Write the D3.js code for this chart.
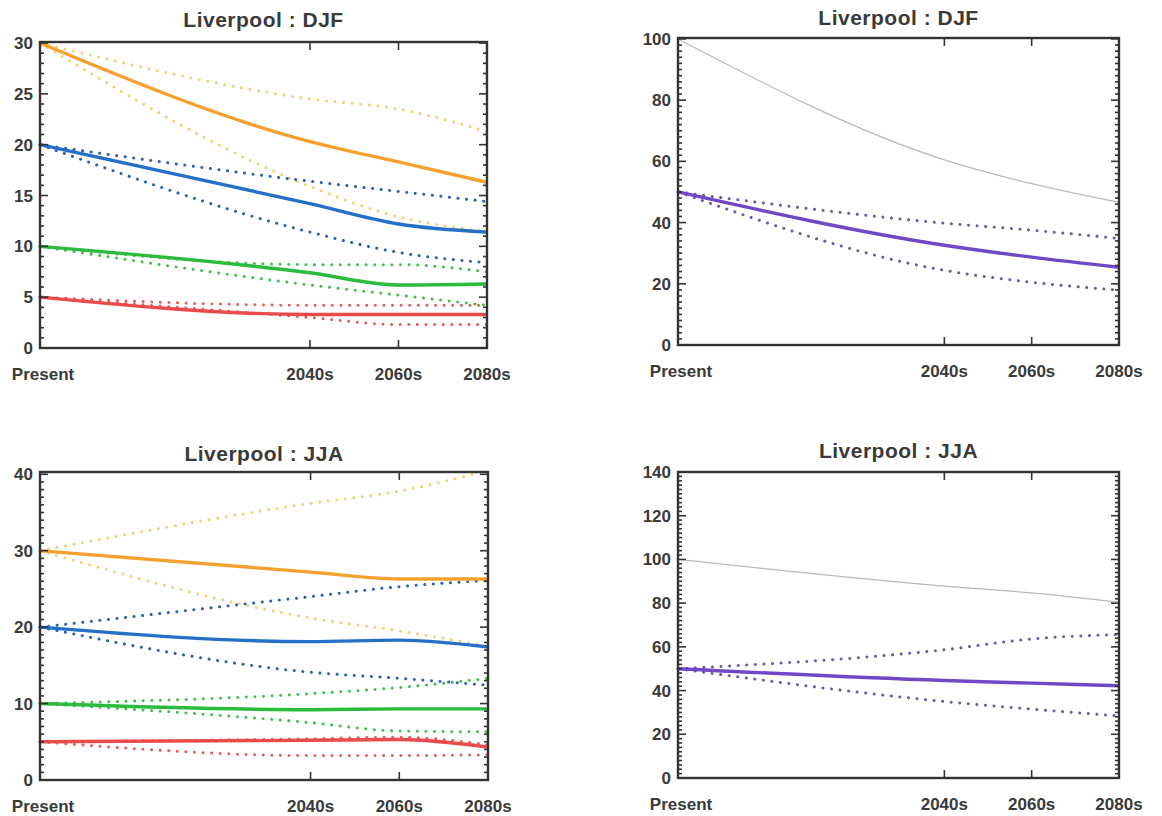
<!DOCTYPE html>
<html>
<head>
<meta charset="utf-8">
<script src="https://cdn.jsdelivr.net/npm/d3@7"></script>
<style>
  body { margin: 0; background: #fff; }
  svg text { font-family: "Liberation Sans", Arial, sans-serif; fill: #3a3a3a; font-weight: bold; }
</style>
</head>
<body>
<script>
var width = 1162
var height = 816

// time axis
var periods = ["Present", "2040s", "2060s", "2080s"]
var periodYear = [1979, 2040, 2060, 2080]

// top left : Liverpool DJF
var djfOrange   = [30, 20.3, 18.3, 16.3]
var djfOrangeHi = [30, 24.5, 23.5, 21.3]
var djfOrangeLo = [30, 15.9, 12.9, 11.5]
var djfBlue     = [20, 14.2, 12.2, 11.4]
var djfBlueHi   = [20, 16.4, 15.4, 14.4]
var djfBlueLo   = [20, 11.4, 9.4, 8.4]
var djfGreen    = [10, 7.4, 6.2, 6.3]
var djfGreenHi  = [10, 8.2, 8.2, 7.5]
var djfGreenLo  = [10, 6.2, 5.2, 4.2]
var djfRed      = [5, 3.3, 3.3, 3.3]
var djfRedHi    = [5, 4.2, 4.2, 4.2]
var djfRedLo    = [5, 3.0, 2.3, 2.3]

// top right : Liverpool DJF (percentages)
var djfGrey      = [100, 60.5, 52.7, 46.6]
var djfPurple    = [50, 32.6, 28.7, 25.4]
var djfPurpleHi  = [50, 39.8, 37.5, 34.8]
var djfPurpleLo  = [50, 24.4, 20.5, 17.9]

// bottom left : Liverpool JJA
var jjaOrange   = [30, 27.2, 26.3, 26.3]
var jjaOrangeHi = [30, 36.2, 37.8, 40.5]
var jjaOrangeLo = [30, 21.2, 19.5, 17.5]
var jjaBlue     = [20, 18.1, 18.3, 17.4]
var jjaBlueHi   = [20, 24.0, 25.3, 26.1]
var jjaBlueLo   = [20, 14.1, 13.3, 12.4]
var jjaGreen    = [10, 9.2, 9.3, 9.3]
var jjaGreenHi  = [10, 11.3, 12.1, 13.3]
var jjaGreenLo  = [10, 7.5, 6.4, 6.3]
var jjaRed      = [5, 5.2, 5.3, 4.3]
var jjaRedHi    = [5, 5.4, 5.6, 4.6]
var jjaRedLo    = [5, 3.2, 3.2, 3.3]

// bottom right : Liverpool JJA (percentages)
var jjaGrey     = [100, 87.8, 84.7, 80.4]
var jjaPurple   = [50, 44.6, 43.4, 42.2]
var jjaPurpleHi = [50, 58.7, 63.6, 65.6]
var jjaPurpleLo = [50, 35.0, 31.5, 28.4]

var yTicksA = [0, 5, 10, 15, 20, 25, 30]
var yTicksB = [0, 20, 40, 60, 80, 100]
var yTicksC = [0, 10, 20, 30, 40]
var yTicksD = [0, 20, 40, 60, 80, 100, 120, 140]

var colors = {
    orange: ["#f4a02e", "#f3d27a"],
    blue:   ["#2470c8", "#2f5fae"],
    green:  ["#2cbb3c", "#45bf55"],
    red:    ["#ea4a4a", "#e46060"],
    purple: ["#6f48c6", "#6e5ca0"]
}

var svg = d3.select("body")
    .append("svg")
    .attr("width", width)
    .attr("height", height)

function makeSeries(mid, hi, lo, col) {
    return { mid: mid, hi: hi, lo: lo, col: col }
}

var panels = [
    { title: "Liverpool : DJF", titleY: 27, x0: 40, x1: 487, y0: 42, y1: 348, ymax: 30.1, ticks: yTicksA, minor: 1,
      grey: null,
      series: [
        makeSeries(djfOrange, djfOrangeHi, djfOrangeLo, colors.orange),
        makeSeries(djfBlue, djfBlueHi, djfBlueLo, colors.blue),
        makeSeries(djfGreen, djfGreenHi, djfGreenLo, colors.green),
        makeSeries(djfRed, djfRedHi, djfRedLo, colors.red)
      ] },
    { title: "Liverpool : DJF", titleY: 25, x0: 678, x1: 1119, y0: 38, y1: 345, ymax: 100.3, ticks: yTicksB, minor: 2,
      grey: djfGrey,
      series: [ makeSeries(djfPurple, djfPurpleHi, djfPurpleLo, colors.purple) ] },
    { title: "Liverpool : JJA", titleY: 461, x0: 40, x1: 488, y0: 472, y1: 780, ymax: 40.3, ticks: yTicksC, minor: 1,
      grey: null,
      series: [
        makeSeries(jjaOrange, jjaOrangeHi, jjaOrangeLo, colors.orange),
        makeSeries(jjaBlue, jjaBlueHi, jjaBlueLo, colors.blue),
        makeSeries(jjaGreen, jjaGreenHi, jjaGreenLo, colors.green),
        makeSeries(jjaRed, jjaRedHi, jjaRedLo, colors.red)
      ] },
    { title: "Liverpool : JJA", titleY: 458, x0: 678, x1: 1119, y0: 472, y1: 778, ymax: 140, ticks: yTicksD, minor: 2,
      grey: jjaGrey,
      series: [ makeSeries(jjaPurple, jjaPurpleHi, jjaPurpleLo, colors.purple) ] }
]

panels.forEach(function (p) {
    var g = svg.append("g")

    var x_scale = d3.scaleLinear()
        .domain([periodYear[0], periodYear[3]])
        .range([p.x0, p.x1])
    var y_scale = d3.scaleLinear()
        .domain([0, p.ymax])
        .range([p.y1, p.y0])

    var line = d3.line()
        .x(function (d, i) { return x_scale(periodYear[i]) })
        .y(function (d) { return y_scale(d) })
        .curve(d3.curveMonotoneX)

    // grey reference line
    if (p.grey) {
        g.append("path")
            .attr("d", line(p.grey))
            .attr("fill", "none")
            .attr("stroke", "#b9b9b9")
            .attr("stroke-width", 1.2)
    }

    // dotted bounds first, solid on top
    p.series.forEach(function (s) {
        [s.hi, s.lo].forEach(function (b) {
            g.append("path")
                .attr("d", line(b))
                .attr("fill", "none")
                .attr("stroke", s.col[1])
                .attr("stroke-width", 3)
                .attr("stroke-linecap", "round")
                .attr("stroke-dasharray", "0.1,8.5")
        })
    })
    p.series.forEach(function (s) {
        g.append("path")
            .attr("d", line(s.mid))
            .attr("fill", "none")
            .attr("stroke", s.col[0])
            .attr("stroke-width", 3.4)
    })

    // frame
    g.append("rect")
        .attr("x", p.x0).attr("y", p.y0)
        .attr("width", p.x1 - p.x0).attr("height", p.y1 - p.y0)
        .attr("fill", "none")
        .attr("stroke", "#333")
        .attr("stroke-width", 2.4)

    // y ticks (left + right, inward)
    var minorTicks = d3.range(0, p.ymax + 0.001, p.minor)
    minorTicks.forEach(function (v) {
        var yy = y_scale(v)
        var len = p.ticks.indexOf(v) >= 0 ? 8 : 4
        g.append("line").attr("x1", p.x0).attr("x2", p.x0 + len)
            .attr("y1", yy).attr("y2", yy).attr("stroke", "#333").attr("stroke-width", 1.6)
        g.append("line").attr("x1", p.x1).attr("x2", p.x1 - len)
            .attr("y1", yy).attr("y2", yy).attr("stroke", "#333").attr("stroke-width", 1.6)
    })

    g.selectAll(".ylab")
        .data(p.ticks)
        .enter()
        .append("text")
        .attr("x", p.x0 - 7)
        .attr("y", function (d) { return y_scale(d) + 6 })
        .attr("text-anchor", "end")
        .style("font-size", "17px")
        .text(function (d) { return d })

    // x ticks (top + bottom, inward)
    periodYear.slice(1).forEach(function (yr) {
        var xx = x_scale(yr)
        g.append("line").attr("x1", xx).attr("x2", xx)
            .attr("y1", p.y1).attr("y2", p.y1 - 8).attr("stroke", "#333").attr("stroke-width", 1.6)
        g.append("line").attr("x1", xx).attr("x2", xx)
            .attr("y1", p.y0).attr("y2", p.y0 + 8).attr("stroke", "#333").attr("stroke-width", 1.6)
    })

    g.selectAll(".xlab")
        .data(periods)
        .enter()
        .append("text")
        .attr("x", function (d, i) { return x_scale(periodYear[i]) + (i === 0 ? 3 : 0) })
        .attr("y", p.y1 + 32)
        .attr("text-anchor", "middle")
        .style("font-size", "17px")
        .text(function (d) { return d })

    g.append("text")
        .attr("x", (p.x0 + p.x1) / 2)
        .attr("y", p.titleY)
        .attr("text-anchor", "middle")
        .style("font-size", "21px")
        .style("letter-spacing", "0.5px")
        .text(p.title)
})
</script>
</body>
</html>
